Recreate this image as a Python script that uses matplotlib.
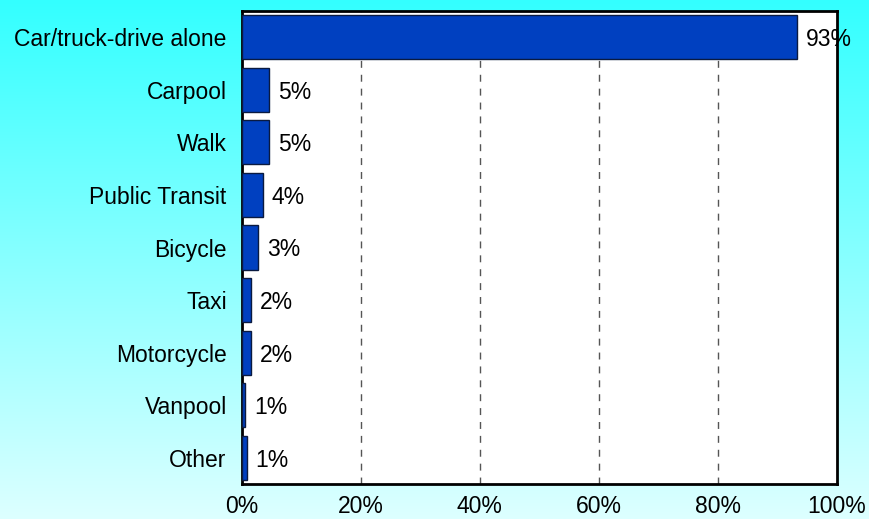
import matplotlib
matplotlib.use("Agg")
import matplotlib.pyplot as plt
import numpy as np
from matplotlib.colors import LinearSegmentedColormap

categories = ["Car/truck-drive alone", "Carpool", "Walk", "Public Transit", "Bicycle",
              "Taxi", "Motorcycle", "Vanpool", "Other"]
values = [93.3, 4.5, 4.5, 3.5, 2.7, 1.5, 1.5, 0.5, 0.8]
labels = ["93%", "5%", "5%", "4%", "3%", "2%", "2%", "1%", "1%"]
xticks = [0, 20, 40, 60, 80, 100]
xticklabels = ["0%", "20%", "40%", "60%", "80%", "100%"]

plt.rcParams['font.family'] = ['Liberation Sans', 'DejaVu Sans']

fig = plt.figure(figsize=(8.69, 5.19), dpi=100)
# gradient background
bg = fig.add_axes([0, 0, 1, 1], zorder=-10)
grad = np.linspace(0, 1, 256).reshape(-1, 1)
cmap = LinearSegmentedColormap.from_list("bg", ["#33FFFF", "#DDFFFF"])
bg.imshow(grad, aspect='auto', cmap=cmap, extent=[0, 1, 0, 1], origin='upper')
bg.axis('off')

W, H = 869, 519
ax = fig.add_axes([242 / W, 1 - 484 / H, (836.7 - 242) / W, (484 - 11) / H])
ax.set_facecolor('white')
y = np.arange(len(categories))
bars = ax.barh(y, values, height=0.84, color='#0040C0', edgecolor='#0A1A40', linewidth=1, zorder=3)
ax.set_ylim(len(categories) - 0.5, -0.5)
ax.set_xlim(0, 100)
ax.set_yticks(y)
ax.set_yticklabels(categories, fontsize=16.5)
ax.set_xticks(xticks)
ax.set_xticklabels(xticklabels, fontsize=16.5)
ax.tick_params(axis='y', length=0, pad=11)
ax.tick_params(axis='x', length=0, pad=8)
for x in xticks[1:-1]:
    ax.axvline(x, color='#555555', linestyle=(0, (5, 5)), linewidth=1, zorder=1)
for spine in ax.spines.values():
    spine.set_linewidth(2)
    spine.set_color('black')
for yi, v, lab in zip(y, values, labels):
    ax.text(v + 1.5, yi, lab, va='center_baseline', ha='left', fontsize=16.5, clip_on=False, zorder=5)

fig.savefig("out.png", dpi=100)
